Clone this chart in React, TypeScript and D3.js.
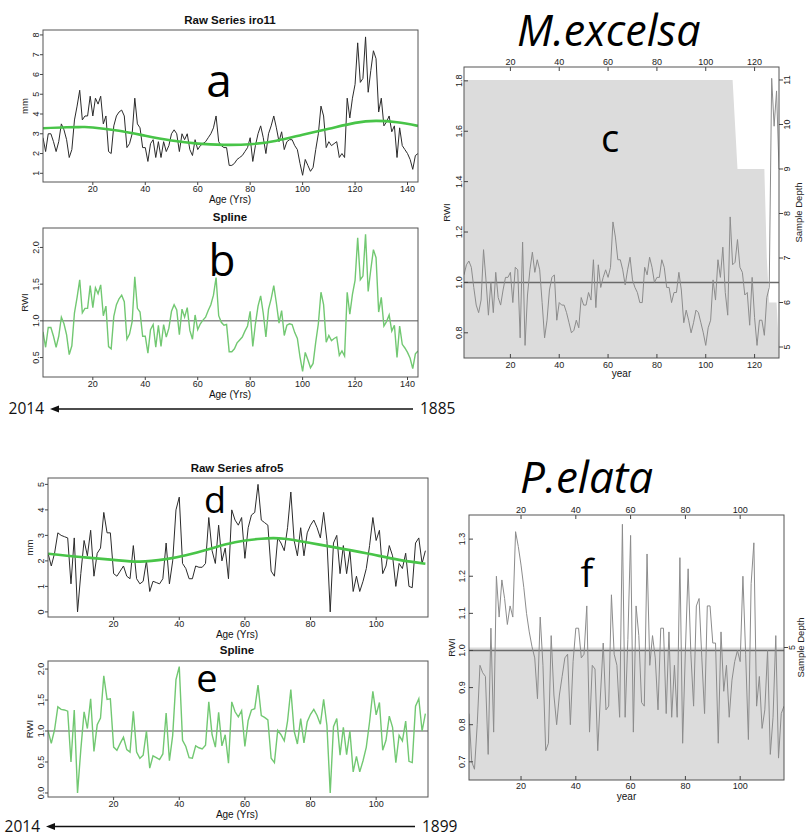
import React, { useEffect, useRef } from 'react'
import * as d3 from 'd3'

// ---- data ----
const rawIro11 = [
  2.8, 2.1, 3.0, 3.0, 2.6, 2.1, 2.6, 3.5, 3.2, 2.7,
  1.8, 2.2, 3.7, 4.4, 5.2, 3.7, 3.9, 3.9, 4.9, 3.9,
  4.8, 4.5, 4.9, 3.5, 3.9, 2.1, 2.0, 3.4, 3.9, 4.1,
  4.2, 3.9, 2.3, 2.5, 3.0, 4.8, 3.5, 3.3, 2.3, 2.3,
  1.6, 2.5, 2.7, 1.8, 2.6, 1.8, 2.6, 2.1, 2.4, 3.0,
  3.2, 3.0, 2.1, 3.0, 2.7, 3.0, 2.2, 1.9, 2.7, 2.2,
  2.4, 2.5, 2.6, 2.8, 3.0, 3.3, 3.9, 2.6, 2.4, 2.3,
  2.3, 1.4, 1.4, 1.5, 1.7, 1.8, 1.9, 2.1, 2.3, 2.8,
  1.6, 2.4, 3.0, 3.4, 2.8, 2.0, 3.0, 3.4, 3.9, 3.3,
  2.6, 3.1, 2.2, 2.6, 2.7, 2.7, 2.4, 2.2, 1.5, 0.9,
  1.7, 1.4, 1.1, 1.3, 2.2, 3.0, 4.4, 3.9, 2.3, 2.6,
  2.4, 2.5, 2.6, 1.8, 2.0, 1.8, 4.8, 3.8, 4.8, 5.5,
  7.6, 5.6, 5.8, 7.9, 5.1, 6.2, 7.2, 6.8, 4.1, 4.8,
  3.4, 3.6, 3.9, 3.1, 3.4, 1.8, 3.3, 2.4, 2.2, 2.0,
  1.7, 1.2, 1.9, 2.0,
]
const splineIro11Age = [1, 10, 16, 20, 30, 40, 50, 60, 70, 80, 90, 100, 110, 120, 128, 136, 144]
const splineIro11 = [3.28, 3.33, 3.34, 3.32, 3.15, 2.9, 2.66, 2.5, 2.44, 2.47, 2.65, 2.95, 3.25, 3.55, 3.65, 3.58, 3.4]
const rwiIro11 = [
  0.85, 0.64, 0.91, 0.91, 0.79, 0.64, 0.79, 1.05, 0.96, 0.81,
  0.54, 0.66, 1.11, 1.32, 1.56, 1.11, 1.17, 1.17, 1.48, 1.18,
  1.45, 1.37, 1.49, 1.07, 1.2, 0.65, 0.62, 1.06, 1.22, 1.3,
  1.35, 1.26, 0.75, 0.82, 0.99, 1.6, 1.17, 1.12, 0.79, 0.79,
  0.56, 0.88, 0.95, 0.64, 0.94, 0.65, 0.95, 0.78, 0.9, 1.13,
  1.22, 1.15, 0.81, 1.16, 1.05, 1.18, 0.87, 0.75, 1.08, 0.88,
  0.96, 1.01, 1.05, 1.14, 1.22, 1.35, 1.59, 1.07, 0.98, 0.94,
  0.95, 0.58, 0.58, 0.62, 0.7, 0.74, 0.78, 0.86, 0.93, 1.13,
  0.65, 0.96, 1.2, 1.34, 1.1, 0.78, 1.16, 1.3, 1.48, 1.24,
  0.97, 1.14, 0.8, 0.94, 0.96, 0.95, 0.84, 0.76, 0.51, 0.31,
  0.57, 0.47, 0.36, 0.42, 0.71, 0.96, 1.39, 1.22, 0.71, 0.8,
  0.73, 0.76, 0.78, 0.53, 0.59, 0.52, 1.39, 1.09, 1.36, 1.55,
  2.13, 1.56, 1.61, 2.18, 1.4, 1.7, 1.97, 1.86, 1.12, 1.32,
  0.93, 0.99, 1.08, 0.86, 0.94, 0.5, 0.93, 0.68, 0.63, 0.57,
  0.49, 0.35, 0.55, 0.59,
]

const rawAfro5 = [
  2.3, 1.8, 2.3, 3.1, 3.0, 2.95, 2.9, 1.1, 2.9, 0.0,
  1.5, 2.8, 2.2, 3.2, 1.4, 2.3, 2.5, 3.9, 3.1, 3.1,
  1.5, 1.4, 1.6, 1.8, 1.4, 1.3, 2.6, 1.3, 1.1, 1.2,
  2.0, 0.8, 1.2, 1.15, 1.1, 1.3, 2.7, 1.1, 2.0, 4.0,
  4.5, 1.9, 1.7, 1.3, 1.3, 1.8, 1.75, 1.75, 1.9, 3.7,
  2.4, 1.9, 3.4, 2.0, 2.5, 1.3, 4.0, 3.6, 3.4, 3.7,
  2.1, 3.3, 3.8, 3.9, 5.0, 3.6, 3.5, 3.4, 1.6, 1.4,
  2.9, 2.7, 2.4, 3.3, 4.7, 2.8, 2.2, 3.3, 2.2, 3.1,
  3.4, 3.6, 3.3, 2.9, 3.9, 2.8, 0.0, 2.7, 3.0, 1.5,
  2.6, 1.5, 2.4, 0.8, 1.4, 0.8, 1.2, 1.7, 2.6, 3.7,
  2.8, 3.2, 1.5, 1.8, 2.6, 2.2, 1.0, 1.9, 1.7, 2.3,
  1.0, 0.95, 2.7, 2.9, 1.9, 2.4,
]
const splineAfro5Age = [0, 10, 20, 28, 36, 42, 50, 57, 65, 72, 80, 87, 97, 107, 115]
const splineAfro5 = [2.28, 2.15, 2.04, 1.97, 2.07, 2.22, 2.5, 2.73, 2.87, 2.87, 2.7, 2.54, 2.3, 2.04, 1.89]
const rwiAfro5 = [
  1.01, 0.8, 1.02, 1.39, 1.35, 1.34, 1.32, 0.5, 1.34, 0.0,
  0.7, 1.31, 1.04, 1.52, 0.67, 1.1, 1.21, 1.89, 1.51, 1.52,
  0.74, 0.69, 0.8, 0.9, 0.7, 0.66, 1.32, 0.66, 0.56, 0.61,
  1.0, 0.4, 0.6, 0.57, 0.54, 0.63, 1.29, 0.52, 0.93, 1.83,
  2.04, 0.85, 0.75, 0.57, 0.56, 0.76, 0.73, 0.71, 0.77, 1.47,
  0.94, 0.74, 1.3, 0.76, 0.94, 0.48, 1.47, 1.31, 1.23, 1.33,
  0.75, 1.17, 1.34, 1.36, 1.74, 1.25, 1.22, 1.18, 0.56, 0.49,
  1.01, 0.94, 0.84, 1.16, 1.67, 1.0, 0.79, 1.2, 0.81, 1.15,
  1.27, 1.35, 1.25, 1.11, 1.51, 1.09, 0.0, 1.07, 1.2, 0.61,
  1.06, 0.62, 1.0, 0.34, 0.59, 0.34, 0.52, 0.74, 1.15, 1.64,
  1.26, 1.46, 0.69, 0.85, 1.24, 1.06, 0.49, 0.93, 0.84, 1.16,
  0.51, 0.49, 1.4, 1.52, 1.0, 1.28,
]

const chronExcelsa = [
  1.03, 1.07, 1.085, 1.06, 0.98, 0.91, 0.88, 0.93, 1.13, 1.01,
  0.87, 1.0, 0.88, 1.04, 0.94, 0.91, 0.97, 1.02, 1.02, 1.04,
  0.92, 1.06, 1.05, 0.78, 1.16, 0.75, 0.95, 1.05, 1.12, 1.04,
  1.09, 1.05, 0.92, 0.78, 0.85, 0.97, 1.02, 1.03, 0.85, 0.92,
  0.91, 0.91, 0.88, 0.84, 0.8, 0.81, 0.85, 0.82, 0.94, 0.91,
  0.91, 0.96, 0.93, 1.09, 0.9, 1.07, 0.98, 1.02, 1.05, 1.02,
  1.06, 1.24, 1.18, 1.09, 1.09, 1.05, 0.99, 1.05, 1.1, 1.01,
  0.98, 0.96, 0.92, 0.92, 1.06, 1.03, 1.1, 1.06, 1.0, 1.02,
  1.02, 1.09, 1.06, 0.98, 0.98, 0.92, 0.96, 0.96, 1.04, 0.97,
  0.84, 0.89, 0.85, 0.8, 0.84, 0.89, 0.88, 0.84, 0.8, 0.75,
  0.82, 0.85, 1.01, 0.93, 1.09, 1.02, 1.14, 0.96, 0.87, 1.26,
  1.07, 1.08, 1.17, 1.06, 1.04, 0.95, 0.96, 0.83, 1.02, 0.86,
  0.75, 0.85, 0.85, 0.79, 0.94, 0.98, 1.81, 1.62, 1.76, 1.45,
]
const depthExcelsaYear = [1, 111, 112, 113, 124, 125, 126, 129, 130]
const depthExcelsa = [11, 11, 10, 9, 9, 7, 6, 6, 5]

const chronElata = [
  0.83, 0.7, 0.68, 0.8, 0.96, 0.94, 0.93, 0.72, 1.06, 0.78,
  1.2, 1.09, 1.19, 1.14, 1.07, 1.12, 1.09, 1.32, 1.28, 1.23,
  1.17, 1.1, 1.05, 1.01, 0.98, 0.87, 1.09, 0.96, 0.73, 0.75,
  1.04, 0.88, 0.8, 0.88, 0.93, 0.98, 0.99, 0.8, 0.97, 1.06,
  1.06, 0.98, 0.99, 1.12, 0.78, 0.96, 0.95, 0.73, 0.88, 1.02,
  0.84, 0.85, 1.15, 0.99, 0.96, 0.82, 1.34, 0.82, 1.03, 1.31,
  0.78, 1.12, 1.04, 0.86, 0.85, 1.26, 0.96, 1.04, 0.98, 0.84,
  1.06, 1.06, 0.83, 1.05, 0.82, 0.96, 0.82, 1.25, 0.75, 1.0,
  1.22, 0.99, 0.85, 1.12, 1.14, 0.98, 0.83, 1.12, 1.12, 1.02,
  1.02, 0.75, 1.05, 0.89, 0.96, 0.82, 0.92, 0.97, 1.0, 0.97,
  1.2, 0.99, 0.76, 1.18, 1.29, 0.85, 0.93, 0.79, 0.84, 1.0,
  0.72, 0.82, 1.04, 0.71, 0.83, 0.85,
]
const depthElataYear = [1, 116]
const depthElata = [5, 5]

const ticksIro11 = [20, 40, 60, 80, 100, 120, 140]
const ticksAfro5 = [20, 40, 60, 80, 100]
const ticksExcelsa = [20, 40, 60, 80, 100, 120]
const ticksElata = [20, 40, 60, 80, 100]

const RFONT = "'Liberation Sans', Arial, sans-serif"
const CFONT = "'Open Sans', 'Noto Sans', sans-serif"

type G = d3.Selection<SVGGElement, unknown, null, undefined>

function xAxisBottom(g: G, x: d3.ScaleLinear<number, number>, ticks: number[], bottom: number, inward: boolean, labelDy: number) {
  ticks.forEach(t => {
    g.append('line').attr('x1', x(t)).attr('x2', x(t))
      .attr('y1', bottom).attr('y2', inward ? bottom - 4 : bottom + 3)
      .attr('stroke', '#444')
    g.append('text').attr('x', x(t)).attr('y', bottom + labelDy)
      .attr('text-anchor', 'middle').attr('font-size', 9).attr('fill', '#222')
      .attr('font-family', RFONT).text(t)
  })
}

function yAxisLeft(g: G, y: d3.ScaleLinear<number, number>, ticks: number[], left: number, inward: boolean, labelDx: number, fmt: (v: number) => string) {
  ticks.forEach(t => {
    g.append('line').attr('x1', left).attr('x2', inward ? left + 4 : left - 3)
      .attr('y1', y(t)).attr('y2', y(t)).attr('stroke', '#444')
    g.append('text').attr('transform', `translate(${left - labelDx},${y(t)}) rotate(-90)`)
      .attr('text-anchor', 'middle').attr('font-size', 9).attr('fill', '#222')
      .attr('font-family', RFONT).text(fmt(t))
  })
}

function vLabel(g: G, x: number, y: number, text: string, size = 9.5) {
  g.append('text').attr('transform', `translate(${x},${y}) rotate(-90)`)
    .attr('text-anchor', 'middle').attr('font-size', size).attr('fill', '#222')
    .attr('font-family', RFONT).text(text)
}

function hText(g: G, x: number, y: number, text: string, size: number, bold = false) {
  g.append('text').attr('x', x).attr('y', y).attr('text-anchor', 'middle')
    .attr('font-size', size).attr('font-weight', bold ? 'bold' : 'normal')
    .attr('fill', '#111').attr('font-family', RFONT).text(text)
}

function frame(g: G, l: number, r: number, t: number, b: number) {
  g.append('rect').attr('x', l).attr('y', t).attr('width', r - l).attr('height', b - t)
    .attr('fill', 'none').attr('stroke', '#555').attr('stroke-width', 1)
}

function clip(svg: any, id: string, l: number, r: number, t: number, b: number) {
  svg.append('clipPath').attr('id', id).append('rect')
    .attr('x', l).attr('y', t).attr('width', r - l).attr('height', b - t)
}

function rawPanel(svg: any, id: string, o: {
  l: number, r: number, t: number, b: number, xDom: number[], yDom: number[],
  ages: number[], values: number[], splAge: number[], spl: number[],
  xTicks: number[], yTicks: number[], title: string, cx: number,
}) {
  const g: G = svg.append('g')
  const x = d3.scaleLinear().domain(o.xDom).range([o.l, o.r])
  const y = d3.scaleLinear().domain(o.yDom).range([o.b, o.t])
  clip(svg, id, o.l, o.r, o.t, o.b)
  const line = d3.line<number>().x((d, i) => x(o.ages[i])).y(d => y(d))
  g.append('path').attr('d', line(o.values)).attr('fill', 'none')
    .attr('stroke', '#2b2b2b').attr('stroke-width', 1).attr('clip-path', `url(#${id})`)
  const sp = d3.line<number>().x((d, i) => x(o.splAge[i])).y(d => y(d)).curve(d3.curveNatural)
  g.append('path').attr('d', sp(o.spl)).attr('fill', 'none')
    .attr('stroke', '#48c448').attr('stroke-width', 2.6).attr('clip-path', `url(#${id})`)
  frame(g, o.l, o.r, o.t, o.b)
  xAxisBottom(g, x, o.xTicks, o.b, false, 10)
  yAxisLeft(g, y, o.yTicks, o.l, false, 4.5, v => String(v))
  hText(g, o.cx, o.t - 6, o.title, 11.5, true)
  vLabel(g, 28 + (o.l - 43), (o.t + o.b) / 2, 'mm')
  hText(g, o.cx, o.b + 21, 'Age (Yrs)', 10)
}

function rwiPanel(svg: any, id: string, o: {
  l: number, r: number, t: number, b: number, xDom: number[], yDom: number[],
  ages: number[], values: number[], xTicks: number[], yTicks: number[], cx: number,
}) {
  const g: G = svg.append('g')
  const x = d3.scaleLinear().domain(o.xDom).range([o.l, o.r])
  const y = d3.scaleLinear().domain(o.yDom).range([o.b, o.t])
  clip(svg, id, o.l, o.r, o.t, o.b)
  g.append('line').attr('x1', o.l).attr('x2', o.r).attr('y1', y(1)).attr('y2', y(1))
    .attr('stroke', '#555').attr('stroke-width', 1)
  const line = d3.line<number>().x((d, i) => x(o.ages[i])).y(d => y(d))
  g.append('path').attr('d', line(o.values)).attr('fill', 'none')
    .attr('stroke', '#72c872').attr('stroke-width', 1.4).attr('clip-path', `url(#${id})`)
  frame(g, o.l, o.r, o.t, o.b)
  xAxisBottom(g, x, o.xTicks, o.b, false, 10)
  yAxisLeft(g, y, o.yTicks, o.l, false, 4.5, v => v.toFixed(1))
  hText(g, o.cx, o.t - 7, 'Spline', 11.5, true)
  vLabel(g, 28 + (o.l - 43), (o.t + o.b) / 2, 'RWI')
  hText(g, o.cx, o.b + 21, 'Age (Yrs)', 10)
}

function chronPanel(svg: any, id: string, o: {
  l: number, r: number, t: number, b: number, xDom: number[], yDom: number[],
  values: number[], dYears: number[], depth: number[], dDom: number[], dTicks: number[],
  xTicks: number[], yTicks: number[], yLabDx: number, bLab: number, yearLab: number, sdDx: number,
}) {
  const g: G = svg.append('g')
  const x = d3.scaleLinear().domain(o.xDom).range([o.l, o.r])
  const y = d3.scaleLinear().domain(o.yDom).range([o.b, o.t])
  const yd = d3.scaleLinear().domain(o.dDom).range([o.b, o.t])
  clip(svg, id, o.l, o.r, o.t, o.b)
  const area = d3.area<number>().x((d, i) => x(o.dYears[i])).y0(o.b).y1(d => yd(d))
  g.append('path').attr('d', area(o.depth)).attr('fill', '#dcdcdc').attr('clip-path', `url(#${id})`)
  g.append('line').attr('x1', o.l).attr('x2', o.r).attr('y1', y(1)).attr('y2', y(1))
    .attr('stroke', '#6a6a6a').attr('stroke-width', 1.5)
  const line = d3.line<number>().x((d, i) => x(i + 1)).y(d => y(d))
  g.append('path').attr('d', line(o.values)).attr('fill', 'none')
    .attr('stroke', '#8c8c8c').attr('stroke-width', 1).attr('clip-path', `url(#${id})`)
  frame(g, o.l, o.r, o.t, o.b)
  // bottom and top year axes, ticks inside
  xAxisBottom(g, x, o.xTicks, o.b, true, o.bLab)
  o.xTicks.forEach(t => {
    g.append('line').attr('x1', x(t)).attr('x2', x(t)).attr('y1', o.t).attr('y2', o.t + 4).attr('stroke', '#444')
    g.append('text').attr('x', x(t)).attr('y', o.t - 2).attr('text-anchor', 'middle')
      .attr('font-size', 9).attr('fill', '#222').attr('font-family', RFONT).text(t)
  })
  yAxisLeft(g, y, o.yTicks, o.l, true, o.yLabDx, v => v.toFixed(1))
  // sample depth axis on the right
  o.dTicks.forEach(t => {
    g.append('line').attr('x1', o.r).attr('x2', o.r + 4).attr('y1', yd(t)).attr('y2', yd(t)).attr('stroke', '#444')
    g.append('text').attr('transform', `translate(${o.r + 11},${yd(t)}) rotate(-90)`)
      .attr('text-anchor', 'middle').attr('font-size', 9).attr('fill', '#222')
      .attr('font-family', RFONT).text(t)
  })
  vLabel(g, o.r + o.sdDx, (o.t + o.b) / 2, 'Sample Depth', 9.5)
  vLabel(g, o.l - 14, (o.t + o.b) / 2, 'RWI', 9.5)
  hText(g, (o.l + o.r) / 2, o.b + o.yearLab, 'year', 10)
}

function timeArrow(svg: any, y: number, x0: number, x1: number, left: string, right: string) {
  const g = svg.append('g')
  g.append('line').attr('x1', x0 + 6).attr('x2', x1).attr('y1', y).attr('y2', y)
    .attr('stroke', '#111').attr('stroke-width', 1.6)
  g.append('path').attr('d', `M${x0},${y} L${x0 + 9},${y - 3.5} L${x0 + 9},${y + 3.5} Z`).attr('fill', '#111')
  g.append('text').attr('x', x0 - 6).attr('y', y + 5).attr('text-anchor', 'end')
    .attr('font-size', 15.5).attr('font-family', CFONT).attr('fill', '#111').text(left)
  g.append('text').attr('x', x1 + 7).attr('y', y + 5).attr('text-anchor', 'start')
    .attr('font-size', 15.5).attr('font-family', CFONT).attr('fill', '#111').text(right)
}

function bigLetter(svg: any, x: number, y: number, s: string, size: number, italic = false, anchor = 'middle') {
  svg.append('text').attr('x', x).attr('y', y).attr('text-anchor', anchor)
    .attr('font-size', size).attr('font-style', italic ? 'italic' : 'normal')
    .attr('font-family', CFONT).attr('fill', '#000').text(s)
}

export default function App() {
  const ref = useRef<SVGSVGElement>(null)

  useEffect(() => {
    const svg = d3.select(ref.current)
    svg.selectAll('*').remove()
    svg.append('rect').attr('width', 806).attr('height', 835).attr('fill', '#fff')

    const agesA = rawIro11.map((d, i) => i + 1)
    const agesD = rawAfro5.map((d, i) => i)

    rawPanel(svg, 'clipA', {
      l: 43, r: 418, t: 30, b: 182, xDom: [1, 144], yDom: [0.56, 8.25],
      ages: agesA, values: rawIro11, splAge: splineIro11Age, spl: splineIro11,
      xTicks: ticksIro11, yTicks: [1, 2, 3, 4, 5, 6, 7, 8], title: 'Raw Series iro11', cx: 230,
    })
    rwiPanel(svg, 'clipB', {
      l: 43, r: 418, t: 228, b: 377, xDom: [1, 144], yDom: [0.235, 2.265],
      ages: agesA, values: rwiIro11, xTicks: ticksIro11, yTicks: [0.5, 1, 1.5, 2], cx: 230,
    })
    rawPanel(svg, 'clipD', {
      l: 48, r: 428, t: 478, b: 617, xDom: [0, 115.8], yDom: [-0.2, 5.25],
      ages: agesD, values: rawAfro5, splAge: splineAfro5Age, spl: splineAfro5,
      xTicks: ticksAfro5, yTicks: [0, 1, 2, 3, 4, 5], title: 'Raw Series afro5', cx: 237,
    })
    rwiPanel(svg, 'clipE', {
      l: 48, r: 428, t: 661, b: 797, xDom: [0, 115.8], yDom: [-0.065, 2.13],
      ages: agesD, values: rwiAfro5, xTicks: ticksAfro5, yTicks: [0, 0.5, 1, 1.5, 2], cx: 237,
    })
    chronPanel(svg, 'clipC', {
      l: 464, r: 779, t: 67, b: 358, xDom: [1, 130], yDom: [0.70, 1.855],
      values: chronExcelsa, dYears: depthExcelsaYear, depth: depthExcelsa,
      dDom: [4.753, 11.292], dTicks: [5, 6, 7, 8, 9, 10, 11],
      xTicks: ticksExcelsa, yTicks: [0.8, 1.0, 1.2, 1.4, 1.6, 1.8], yLabDx: 2, bLab: 10, yearLab: 19, sdDx: 23,
    })
    chronPanel(svg, 'clipF', {
      l: 469, r: 784, t: 515, b: 780, xDom: [1, 116], yDom: [0.651, 1.365],
      values: chronElata, dYears: depthElataYear, depth: depthElata,
      dDom: [4, 6], dTicks: [5],
      xTicks: ticksElata, yTicks: [0.7, 0.8, 0.9, 1.0, 1.1, 1.2, 1.3], yLabDx: 4, bLab: 9, yearLab: 20, sdDx: 20,
    })

    timeArrow(svg, 409, 50, 413, '2014', '1885')
    timeArrow(svg, 826.5, 46, 415, '2014', '1899')

    bigLetter(svg, 219, 97, 'a', 46)
    bigLetter(svg, 222, 276, 'b', 44)
    bigLetter(svg, 610, 152, 'c', 38)
    bigLetter(svg, 215, 513, 'd', 36)
    bigLetter(svg, 207, 692, 'e', 38)
    bigLetter(svg, 587, 587, 'f', 38)
    bigLetter(svg, 517, 45.5, 'M.excelsa', 43, true, 'start')
    bigLetter(svg, 520, 493, 'P.elata', 44, true, 'start')
  }, [])

  return (
    <svg ref={ref} width={806} height={835}
      style={{ position: 'absolute', left: 0, top: 0, display: 'block' }} />
  )
}
